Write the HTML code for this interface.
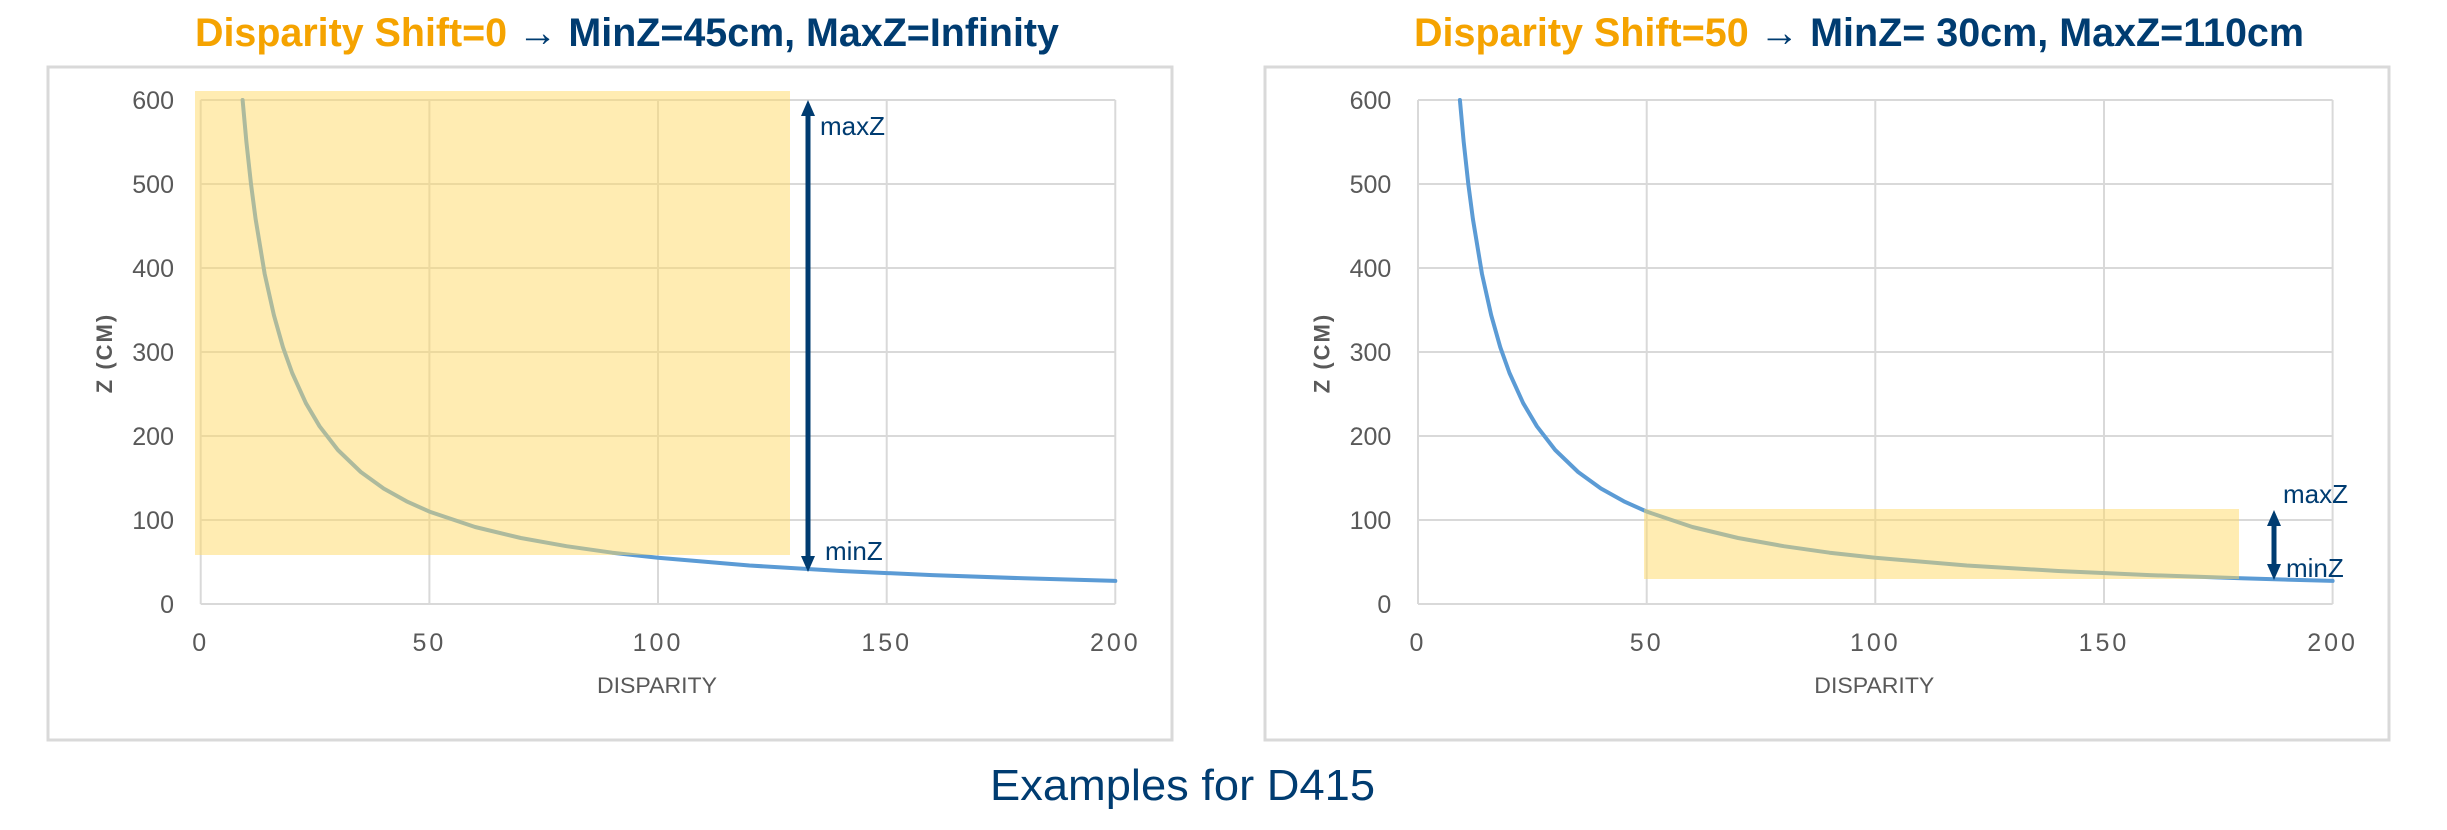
<!DOCTYPE html>
<html><head><meta charset="utf-8"><style>html,body{margin:0;padding:0;background:#fff}svg{display:block}</style></head>
<body>
<svg width="2447" height="830" viewBox="0 0 2447 830" xmlns="http://www.w3.org/2000/svg" font-family="Liberation Sans, sans-serif">
<defs>
<g id="chart">
  <rect x="0" y="0" width="1" height="1" fill="none"/>
  <g stroke="#d9d9d9" stroke-width="2">
    <line x1="200.7" y1="100" x2="1115.3" y2="100"/>
    <line x1="200.7" y1="184" x2="1115.3" y2="184"/>
    <line x1="200.7" y1="268" x2="1115.3" y2="268"/>
    <line x1="200.7" y1="352" x2="1115.3" y2="352"/>
    <line x1="200.7" y1="436" x2="1115.3" y2="436"/>
    <line x1="200.7" y1="520" x2="1115.3" y2="520"/>
    <line x1="200.7" y1="604" x2="1115.3" y2="604"/>
    <line x1="200.7" y1="100" x2="200.7" y2="604"/>
    <line x1="429.4" y1="100" x2="429.4" y2="604"/>
    <line x1="658" y1="100" x2="658" y2="604"/>
    <line x1="886.7" y1="100" x2="886.7" y2="604"/>
    <line x1="1115.3" y1="100" x2="1115.3" y2="604"/>
  </g>
  <g fill="#595959" font-size="25" text-anchor="end">
    <text x="174" y="109">600</text><text x="174" y="193">500</text><text x="174" y="277">400</text>
    <text x="174" y="361">300</text><text x="174" y="445">200</text><text x="174" y="529">100</text>
    <text x="174" y="613">0</text>
  </g>
  <g fill="#595959" font-size="25" text-anchor="middle" letter-spacing="3">
    <text x="200.7" y="651">0</text><text x="429.4" y="651">50</text><text x="658" y="651">100</text>
    <text x="886.7" y="651">150</text><text x="1115.3" y="651">200</text>
  </g>
  <text x="597" y="693" font-size="22" fill="#595959" textLength="120" lengthAdjust="spacingAndGlyphs">DISPARITY</text>
  <text transform="translate(112,353) rotate(-90)" font-size="22" font-weight="bold" fill="#595959" text-anchor="middle" letter-spacing="2">Z (CM)</text>
  <polyline fill="none" stroke="#5b9bd5" stroke-width="4" stroke-linejoin="round" stroke-linecap="round"
   points="242.6,100 246.4,142 251.0,184 255.6,219 264.7,274 273.9,315.2 283.0,347.3 292.2,373 305.9,403.2 319.6,426.3 337.9,450 360.8,472 383.6,488.5 406.5,501.3 429.4,511.6 475.1,527 520.8,538 566.5,546.2 612.3,552.7 658,557.8 749.5,565.5 840.9,571 932.4,575.1 1023.8,578.3 1115.3,580.9"/>
</g>
</defs>

<!-- left chart -->
<rect x="48" y="67" width="1124" height="673" fill="#fff" stroke="#d9d9d9" stroke-width="3"/>
<use href="#chart"/>
<rect x="195" y="91" width="595" height="464" fill="#ffd966" fill-opacity="0.5"/>
<line x1="808" y1="112" x2="808" y2="560" stroke="#003c71" stroke-width="5"/>
<polygon points="808,100 801,116 815,116" fill="#003c71"/>
<polygon points="808,572 801,556 815,556" fill="#003c71"/>
<text x="820" y="135" font-size="26" fill="#003c71">maxZ</text>
<text x="825" y="560" font-size="26" fill="#003c71">minZ</text>
<text x="195" y="46" font-size="40" font-weight="bold" textLength="864" lengthAdjust="spacingAndGlyphs"><tspan fill="#f5a300">Disparity Shift=0 </tspan><tspan fill="#003c71">→ MinZ=45cm, MaxZ=Infinity</tspan></text>

<!-- right chart -->
<rect x="1265" y="67" width="1124" height="673" fill="#fff" stroke="#d9d9d9" stroke-width="3"/>
<use href="#chart" transform="translate(1217.3,0)"/>
<rect x="1644" y="509" width="595" height="70" fill="#ffd966" fill-opacity="0.5"/>
<line x1="2274" y1="522" x2="2274" y2="568" stroke="#003c71" stroke-width="5"/>
<polygon points="2274,510 2267,526 2281,526" fill="#003c71"/>
<polygon points="2274,580 2267,564 2281,564" fill="#003c71"/>
<text x="2283" y="503" font-size="26" fill="#003c71">maxZ</text>
<text x="2286" y="577" font-size="26" fill="#003c71">minZ</text>
<text x="1414" y="46" font-size="40" font-weight="bold" textLength="890" lengthAdjust="spacingAndGlyphs"><tspan fill="#f5a300">Disparity Shift=50 </tspan><tspan fill="#003c71">→ MinZ= 30cm, MaxZ=110cm</tspan></text>

<text x="990" y="800" font-size="44" fill="#003c71" textLength="385" lengthAdjust="spacingAndGlyphs">Examples for D415</text>
</svg>
</body></html>
